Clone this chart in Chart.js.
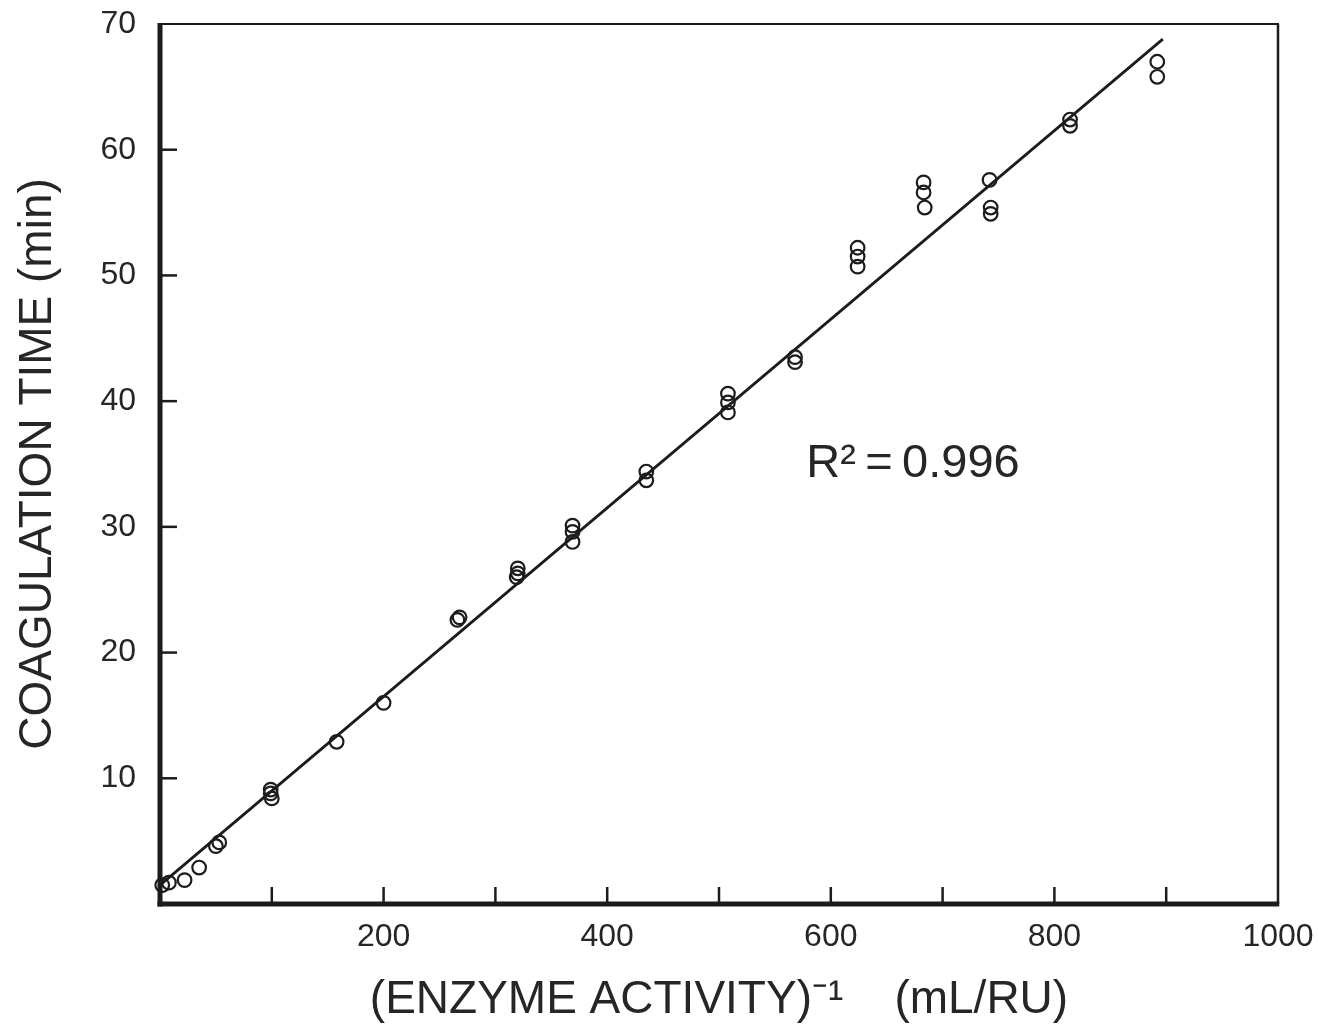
<!DOCTYPE html>
<html>
<head>
<meta charset="utf-8">
<title>Coagulation time vs inverse enzyme activity</title>
<script src="https://cdn.jsdelivr.net/npm/chart.js@4/dist/chart.umd.min.js"></script>
<style>
  html, body { margin: 0; padding: 0; background: #ffffff; }
  #wrap { width: 1318px; height: 1031px; }
</style>
</head>
<body>
<div id="wrap"><canvas id="chart" width="1318" height="1031"></canvas></div>
<script>
// Inverse enzyme activity (mL/RU) for each replicate measurement
const inverseActivity = [
  2, 8, 22, 35, 50, 53,
  99, 99, 100, 158, 200,
  266, 268, 320, 320, 319,
  369, 369, 369, 435, 435,
  508, 508, 508, 568, 568,
  624, 624, 624, 683, 683, 684,
  742, 743, 743, 814, 814, 892, 892
];
// Coagulation time (min) for each replicate measurement
const coagulationTime = [
  1.5, 1.7, 1.9, 2.9, 4.6, 4.9,
  9.1, 8.8, 8.4, 12.9, 16.0,
  22.6, 22.8, 26.7, 26.3, 26.0,
  30.1, 29.6, 28.8, 34.4, 33.7,
  40.6, 39.9, 39.1, 43.5, 43.1,
  52.2, 51.5, 50.7, 57.4, 56.6, 55.4,
  57.6, 55.4, 54.9, 62.4, 61.9, 67.0, 65.8
];
// Least-squares fit line, end points
const fitX = [0, 897];
const fitY = [1.5, 68.8];
const fitLabel = 'R\u00B2\u2009=\u20090.996';

// Axis tick values
const xTickValues = [100, 200, 300, 400, 500, 600, 700, 800, 900];
const xLabelValues = [200, 400, 600, 800, 1000];
const yTickValues = [10, 20, 30, 40, 50, 60];
const yLabelValues = [10, 20, 30, 40, 50, 60, 70];

const INK = '#1c1c1c';
const TEXT = '#262626';
const FONT = "'Liberation Sans', Arial, Helvetica, sans-serif";

const points = inverseActivity.map((x, i) => ({ x: x, y: coagulationTime[i] }));
const fitLine = fitX.map((x, i) => ({ x: x, y: fitY[i] }));

// Frame: heavy left/bottom axes, light top/right border, inward tick marks
const framePlugin = {
  id: 'frame',
  beforeDatasetsDraw(chart) {
    const { ctx, chartArea: a, scales } = chart;
    ctx.save();
    ctx.strokeStyle = INK;
    ctx.lineCap = 'butt';

    ctx.lineWidth = 2;
    ctx.beginPath();
    ctx.moveTo(a.left, a.top);
    ctx.lineTo(a.right + 1, a.top);
    ctx.stroke();

    ctx.lineWidth = 2.5;
    ctx.beginPath();
    ctx.moveTo(a.right, a.top);
    ctx.lineTo(a.right, a.bottom);
    ctx.stroke();

    ctx.lineWidth = 5;
    ctx.beginPath();
    ctx.moveTo(a.left, a.top - 1);
    ctx.lineTo(a.left, a.bottom + 2.5);
    ctx.stroke();
    ctx.beginPath();
    ctx.moveTo(a.left - 2.5, a.bottom);
    ctx.lineTo(a.right + 1.25, a.bottom);
    ctx.stroke();

    ctx.lineWidth = 2.5;
    const tick = 17;
    xTickValues.forEach(v => {
      const px = scales.x.getPixelForValue(v);
      ctx.beginPath();
      ctx.moveTo(px, a.bottom);
      ctx.lineTo(px, a.bottom - tick);
      ctx.stroke();
    });
    yTickValues.forEach(v => {
      const py = scales.y.getPixelForValue(v);
      ctx.beginPath();
      ctx.moveTo(a.left, py);
      ctx.lineTo(a.left + tick, py);
      ctx.stroke();
    });
    ctx.restore();
  },
  afterDatasetsDraw(chart) {
    const { ctx, scales } = chart;
    ctx.save();
    ctx.fillStyle = TEXT;
    ctx.font = '47px ' + FONT;
    ctx.textAlign = 'left';
    ctx.textBaseline = 'alphabetic';
    ctx.fillText(fitLabel, scales.x.getPixelForValue(578), scales.y.getPixelForValue(34.0));
    ctx.restore();
  }
};

new Chart(document.getElementById('chart').getContext('2d'), {
  type: 'scatter',
  data: {
    datasets: [
      {
        type: 'line',
        data: fitLine,
        borderColor: INK,
        borderWidth: 2.8,
        pointRadius: 0,
        fill: false,
        tension: 0,
        clip: false,
        order: 2
      },
      {
        type: 'scatter',
        data: points,
        pointStyle: 'circle',
        pointRadius: 6.8,
        borderColor: INK,
        borderWidth: 2.2,
        backgroundColor: 'rgba(0,0,0,0)',
        clip: false,
        order: 1
      }
    ]
  },
  options: {
    responsive: false,
    animation: false,
    devicePixelRatio: 1,
    layout: { padding: { top: 24, right: 40, left: 0, bottom: 0 } },
    plugins: {
      legend: { display: false },
      tooltip: { enabled: false }
    },
    scales: {
      x: {
        type: 'linear',
        min: 0,
        max: 1000,
        grid: { display: false, drawTicks: false },
        border: { display: false },
        ticks: {
          stepSize: 100,
          autoSkip: false,
          maxRotation: 0,
          padding: 14,
          color: TEXT,
          font: { family: FONT, size: 32 },
          callback: v => (xLabelValues.includes(v) ? String(v) : '')
        },
        title: {
          display: true,
          text: '(ENZYME ACTIVITY)\u207B\u00B9    (mL/RU)',
          color: TEXT,
          font: { family: FONT, size: 46 },
          padding: { top: 0, bottom: 3 }
        },
        afterFit(scale) {
          scale.height = 127;
          scale.paddingLeft = 0;
          scale.paddingRight = 0;
        }
      },
      y: {
        type: 'linear',
        min: 0,
        max: 70,
        grid: { display: false, drawTicks: false },
        border: { display: false },
        ticks: {
          stepSize: 10,
          padding: 24,
          color: TEXT,
          font: { family: FONT, size: 32 },
          callback: v => (yLabelValues.includes(v) ? String(v) : '')
        },
        title: {
          display: true,
          text: 'COAGULATION TIME (min)',
          color: TEXT,
          font: { family: FONT, size: 46 },
          padding: { top: 11, bottom: 0 }
        },
        afterFit(scale) {
          scale.width = 160;
          scale.paddingTop = 0;
          scale.paddingBottom = 0;
        }
      }
    }
  },
  plugins: [framePlugin]
});
</script>
</body>
</html>
